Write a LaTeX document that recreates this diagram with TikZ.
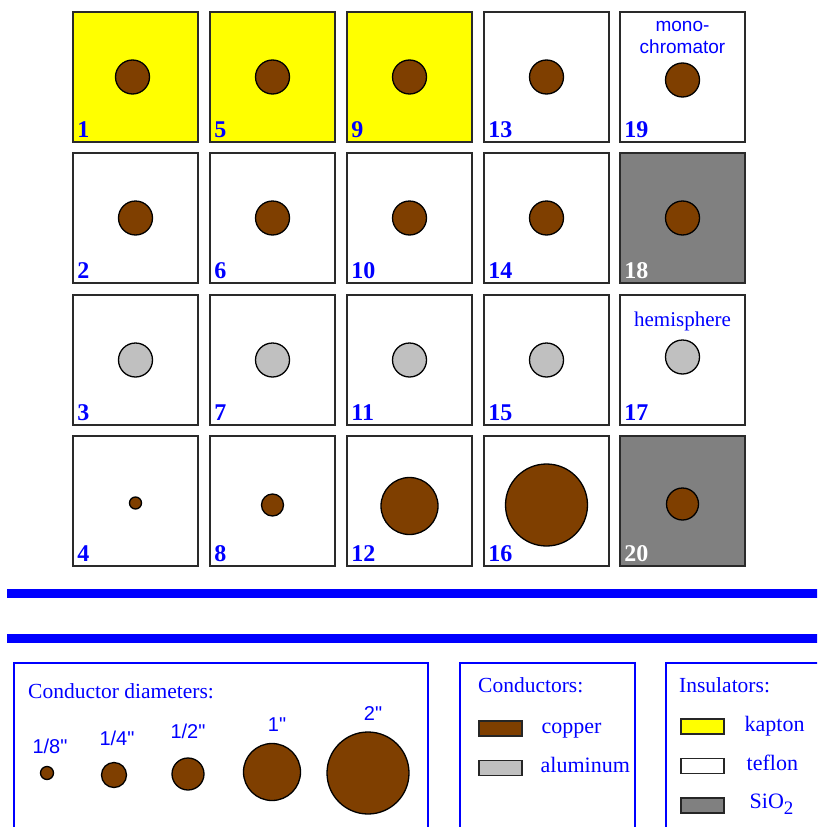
\documentclass[tikz,border=0pt]{standalone}
\usepackage{fontspec}
\setmainfont{Liberation Serif}
\newfontfamily\labelsans{Liberation Sans}
\usetikzlibrary{positioning}
\definecolor{kapton}{HTML}{FFFF00}
\definecolor{copper}{HTML}{7F3F00}
\definecolor{alu}{HTML}{C0C0C0}
\definecolor{sio}{HTML}{808080}
\definecolor{ink}{HTML}{0000FF}
\definecolor{rim}{HTML}{2A2A2A}
\tikzset{
  cell/.style  ={rectangle, draw=rim, line width=1.6pt, fill=white,
                 minimum width=125pt, minimum height=130pt, inner sep=0pt},
  cellk/.style ={cell, fill=kapton},
  cellg/.style ={cell, fill=sio},
  rod/.style   ={circle, draw=black, line width=1.3pt, fill=copper,
                 minimum size=34pt, inner sep=0pt},
  rodal/.style ={rod, fill=alu},
  num/.style   ={anchor=base west, inner sep=0pt, text=ink,
                 font=\fontsize{24}{24}\selectfont\bfseries},
  numw/.style  ={num, text=white},
  note/.style  ={anchor=north, inner sep=0pt, text=ink, align=center},
  bar/.style   ={draw=ink, line width=9pt},
  frame/.style ={rectangle, draw=ink, line width=2pt, anchor=north west,
                 minimum height=220pt, inner sep=0pt},
  swatch/.style={rectangle, draw=black!85, line width=1.5pt,
                 minimum width=43pt, minimum height=15pt, inner sep=0pt},
  head/.style  ={anchor=base west, inner sep=0pt, text=ink,
                 font=\fontsize{21.5}{21.5}\selectfont},
  item/.style  ={inner sep=0pt, text=ink, font=\fontsize{22}{22}\selectfont},
  dia/.style   ={anchor=base, inner sep=0pt, text=ink,
                 font=\labelsans\fontsize{20}{20}\selectfont}
}
\begin{document}
\begin{tikzpicture}[x=1pt, y=-1pt]
  \clip (0,0) rectangle (817,827);

  % sample grid, column by column
  \node[cellk] (c1)  at (135.5,77)  {};
  \node[cell]  (c2)  at (135.5,218) {};
  \node[cell]  (c3)  at (135.5,360) {};
  \node[cell]  (c4)  at (135.5,501) {};
  \node[cellk] (c5)  at (272.5,77)  {};
  \node[cell]  (c6)  at (272.5,218) {};
  \node[cell]  (c7)  at (272.5,360) {};
  \node[cell]  (c8)  at (272.5,501) {};
  \node[cellk] (c9)  at (409.5,77)  {};
  \node[cell]  (c10) at (409.5,218) {};
  \node[cell]  (c11) at (409.5,360) {};
  \node[cell]  (c12) at (409.5,501) {};
  \node[cell]  (c13) at (546.5,77)  {};
  \node[cell]  (c14) at (546.5,218) {};
  \node[cell]  (c15) at (546.5,360) {};
  \node[cell]  (c16) at (546.5,501) {};
  \node[cell]  (c19) at (682.5,77)  {};
  \node[cellg] (c18) at (682.5,218) {};
  \node[cell]  (c17) at (682.5,360) {};
  \node[cellg] (c20) at (682.5,501) {};

  \node[rod,xshift=-3pt] (r1) at (c1) {};
  \node[rod]   (r2)  at (c2)  {};
  \node[rodal] (r3)  at (c3)  {};
  \node[rod,minimum size=12pt,yshift=-2pt] (r4) at (c4) {};
  \node[rod]   (r5)  at (c5)  {};
  \node[rod]   (r6)  at (c6)  {};
  \node[rodal] (r7)  at (c7)  {};
  \node[rod,minimum size=22pt,yshift=-4pt] (r8) at (c8) {};
  \node[rod]   (r9)  at (c9)  {};
  \node[rod]   (r10) at (c10) {};
  \node[rodal] (r11) at (c11) {};
  \node[rod,minimum size=57pt,yshift=-5pt] (r12) at (c12) {};
  \node[rod]   (r13) at (c13) {};
  \node[rod]   (r14) at (c14) {};
  \node[rodal] (r15) at (c15) {};
  \node[rod,minimum size=82pt,yshift=-4pt] (r16) at (c16) {};
  \node[rod,yshift=-3pt]   (r19) at (c19) {};
  \node[rod]   (r18) at (c18) {};
  \node[rodal,yshift=3pt]  (r17) at (c17) {};
  \node[rod,minimum size=32pt,yshift=-3pt] (r20) at (c20) {};

  \node[num]  (n1)  at ([shift={(5pt,5pt)}]c1.south west)  {1};
  \node[num]  (n2)  at ([shift={(5pt,5pt)}]c2.south west)  {2};
  \node[num]  (n3)  at ([shift={(5pt,5pt)}]c3.south west)  {3};
  \node[num]  (n4)  at ([shift={(5pt,5pt)}]c4.south west)  {4};
  \node[num]  (n5)  at ([shift={(5pt,5pt)}]c5.south west)  {5};
  \node[num]  (n6)  at ([shift={(5pt,5pt)}]c6.south west)  {6};
  \node[num]  (n7)  at ([shift={(5pt,5pt)}]c7.south west)  {7};
  \node[num]  (n8)  at ([shift={(5pt,5pt)}]c8.south west)  {8};
  \node[num]  (n9)  at ([shift={(5pt,5pt)}]c9.south west)  {9};
  \node[num]  (n10) at ([shift={(5pt,5pt)}]c10.south west) {10};
  \node[num]  (n11) at ([shift={(5pt,5pt)}]c11.south west) {11};
  \node[num]  (n12) at ([shift={(5pt,5pt)}]c12.south west) {12};
  \node[num]  (n13) at ([shift={(5pt,5pt)}]c13.south west) {13};
  \node[num]  (n14) at ([shift={(5pt,5pt)}]c14.south west) {14};
  \node[num]  (n15) at ([shift={(5pt,5pt)}]c15.south west) {15};
  \node[num]  (n16) at ([shift={(5pt,5pt)}]c16.south west) {16};
  \node[num]  (n19) at ([shift={(5pt,5pt)}]c19.south west) {19};
  \node[numw] (n18) at ([shift={(5pt,5pt)}]c18.south west) {18};
  \node[num]  (n17) at ([shift={(5pt,5pt)}]c17.south west) {17};
  \node[numw] (n20) at ([shift={(5pt,5pt)}]c20.south west) {20};

  \node[note,below=10pt of c19.north,font=\labelsans\fontsize{19}{22}\selectfont] (mono) {mono-\\chromator};
  \node[note,below=18pt of c17.north,font=\fontsize{21}{21}\selectfont] (hemi) {hemisphere};

  % separators
  \draw[bar] (7,593) -- (830,593);
  \draw[bar] (7,638) -- (830,638);

  % legend frames
  \node[frame,minimum width=414pt] (fdia) at (13,662)  {};
  \node[frame,minimum width=175pt] (fcon) at (459,662) {};
  \node[frame,minimum width=200pt] (fins) at (665,662) {};

  \node[head] (tdia) at (28,698)  {Conductor diameters:};
  \node[head] (tcon) at (478,692) {Conductors:};
  \node[head] (tins) at (679,692) {Insulators:};

  \node[rod,minimum size=13pt] (d1) at (47,773)  {};
  \node[rod,minimum size=25pt] (d2) at (114,775) {};
  \node[rod,minimum size=32pt] (d3) at (188,774) {};
  \node[rod,minimum size=57pt] (d4) at (272,772) {};
  \node[rod,minimum size=82pt] (d5) at (368,773) {};
  \node[dia] at (50,753)  {1/8"};
  \node[dia] at (117,745) {1/4"};
  \node[dia] at (188,738) {1/2"};
  \node[dia] at (277,731) {1"};
  \node[dia] at (373,720) {2"};

  \node[swatch,fill=copper,anchor=north west] (scu) at (478,720) {};
  \node[swatch,fill=alu,below=23pt of scu]    (sal) {};
  \node[item,right=19pt of scu,anchor=base west,yshift=-5pt] (lcu) {copper};
  \node[item,right=18pt of sal,anchor=base west,yshift=-5pt] (lal) {aluminum};

  \node[swatch,fill=kapton,anchor=north west] (skp) at (680,718) {};
  \node[swatch,fill=white,below=23pt of skp]  (stf) {};
  \node[swatch,fill=sio,below=23pt of stf]    (ssi) {};
  \node[item,right=20pt of skp,anchor=base west,yshift=-5pt] (lkp) {kapton};
  \node[item,right=22pt of stf,anchor=base west,yshift=-5pt] (ltf) {teflon};
  \node[item,right=25pt of ssi,anchor=base west,yshift=-3pt] (lsi) {SiO\raisebox{-6pt}{\fontsize{19}{19}\selectfont 2}};
\end{tikzpicture}
\end{document}
